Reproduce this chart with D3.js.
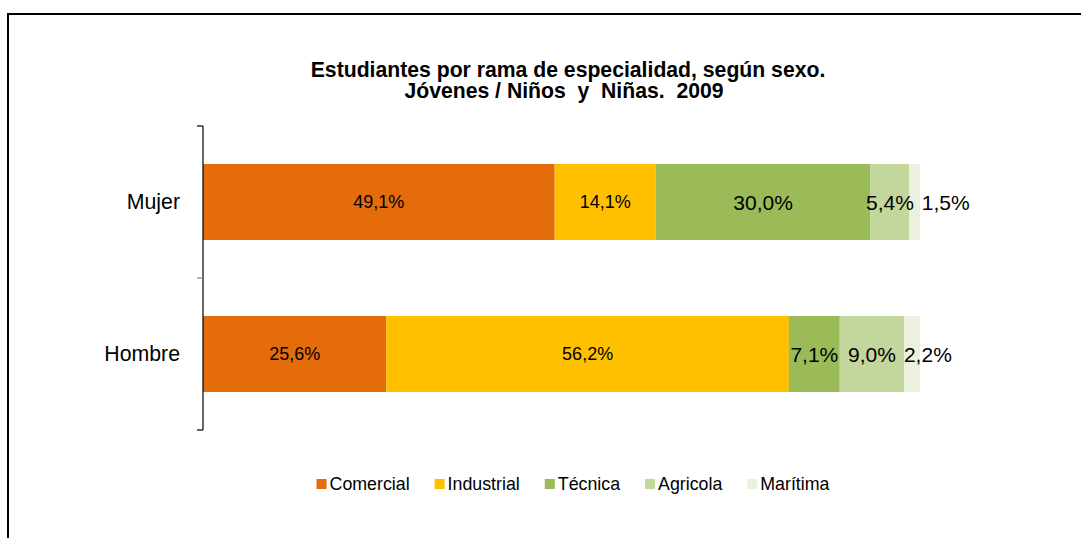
<!DOCTYPE html>
<html><head><meta charset="utf-8">
<script src="https://cdn.jsdelivr.net/npm/d3@7"></script>
<style>html,body{margin:0;padding:0;background:#fff;overflow:hidden}svg{display:block;font-family:"Liberation Sans",Arial,sans-serif}</style>
</head><body><svg id="c" width="1081" height="538"></svg>
<script>
const categories = ["Mujer", "Hombre"];
const seriesNames = ["Comercial", "Industrial", "Técnica", "Agricola", "Marítima"];
const comercial  = [49.1, 25.6];
const industrial = [14.1, 56.2];
const tecnica    = [30.0, 7.1];
const agricola   = [5.4, 9.0];
const maritima   = [1.5, 2.2];
const colors = ["#E46C0A", "#FFC000", "#9BBB59", "#C3D69B", "#EBF1DE"];
const titleLines = ["Estudiantes por rama de especialidad, según sexo.", "Jóvenes / Niños  y  Niñas.  2009"];

const seriesVals = [comercial, industrial, tecnica, agricola, maritima];
const table = categories.map((c, i) => {
  const o = {cat: c};
  seriesNames.forEach((s, j) => o[s] = seriesVals[j][i]);
  return o;
});
const stacked = d3.stack().keys(seriesNames).offset(d3.stackOffsetExpand)(table);

const svg = d3.select("#c");
const loc = d3.formatLocale({decimal: ",", thousands: ".", grouping: [3], currency: ["", "€"]});
const fmt = v => loc.format(".1f")(v) + "%";

// outer frame
svg.append("path").attr("d", "M8,540 L8,14 L1090,14").attr("fill", "none").attr("stroke", "#000").attr("stroke-width", 2);

// title
const title = svg.append("text").attr("text-anchor", "middle").attr("font-weight", "bold").attr("font-size", 21.2).attr("fill", "#000").style("white-space", "pre");
title.append("tspan").attr("x", 568).attr("y", 77).text(titleLines[0]);
title.append("tspan").attr("x", 564).attr("y", 98).text(titleLines[1]);

const x = d3.scaleLinear().domain([0, 1]).range([203, 920]);
const y = d3.scaleBand().domain(categories).range([126, 430]).paddingInner(0.5).paddingOuter(0.25);

// bars
const g = svg.append("g");
stacked.forEach((layer, j) => {
  g.selectAll(null).data(layer).enter().append("rect")
    .attr("x", d => x(d[0])).attr("width", d => x(d[1]) - x(d[0]))
    .attr("y", d => y(d.data.cat)).attr("height", y.bandwidth())
    .attr("fill", colors[j]);
});

// labels
const labelG = svg.append("g").attr("fill", "#000");
categories.forEach((c, i) => {
  let prevEnd = null;
  stacked.forEach((layer, j) => {
    const d = layer[i];
    const val = seriesVals[j][i];
    const small = j < 2;
    const t = labelG.append("text")
      .attr("font-size", small ? 18 : 21)
      .attr("y", y(c) + y.bandwidth() / 2)
      .attr("dy", "0.36em")
      .text(fmt(val));
    if (j === seriesNames.length - 1) {
      t.attr("text-anchor", "start").attr("x", prevEnd + 8);
    } else {
      const cx = (x(d[0]) + x(d[1])) / 2;
      t.attr("text-anchor", "middle").attr("x", cx);
      prevEnd = cx + t.node().getComputedTextLength() / 2;
    }
  });
});

// axis
const axis = d3.axisLeft(y).tickSize(0).tickPadding(23);
const ax = svg.append("g").attr("transform", "translate(203,0)").call(axis);
ax.select(".domain").remove();
ax.selectAll("text").attr("font-size", 21.3).attr("fill", "#000").attr("font-family", "Liberation Sans, Arial, sans-serif");
svg.append("line").attr("x1", 203).attr("x2", 203).attr("y1", 126).attr("y2", 430).attr("stroke", "#000").attr("stroke-width", 1.2);
const tickYs = [y.range()[0], (y.range()[0] + y.range()[1]) / 2, y.range()[1]];
svg.selectAll(null).data(tickYs).enter().append("line")
  .attr("x1", 197).attr("x2", 203).attr("y1", d => d).attr("y2", d => d)
  .attr("stroke", (d, i) => i === 1 ? "#888" : "#000").attr("stroke-width", 1.2);

// legend
const leg = svg.append("g");
let cur = 0;
seriesNames.forEach((s, j) => {
  const it = leg.append("g");
  it.append("rect").attr("width", 10).attr("height", 10).attr("y", -11).attr("fill", colors[j]);
  const t = it.append("text").attr("x", 13).attr("font-size", 17.8).attr("fill", "#000").text(s);
  const w = 13 + t.node().getComputedTextLength();
  it.attr("transform", `translate(${cur},0)`);
  cur += w + 25;
});
const totalW = cur - 25;
leg.attr("transform", `translate(${573 - totalW / 2},490)`);
</script></body></html>
